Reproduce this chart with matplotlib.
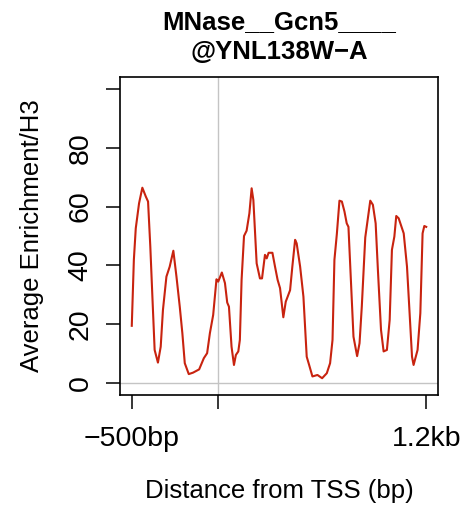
import matplotlib
matplotlib.use("Agg")
import matplotlib.pyplot as plt

plt.rcParams['font.family'] = ['Liberation Sans', 'DejaVu Sans']

# Average MNase enrichment profile (relative to H3) around the TSS
position_bp = [-500, -488, -477, -458, -439, -419, -406, -393, -381, -368, -349, -333,
               -320, -300, -281, -260, -242, -223, -208, -194, -171, -146, -111, -84,
               -65, -49, -30, -11, -1, 20, 38, 51, 61, 76, 90, 101, 115, 124, 134, 148,
               163, 179, 192, 202, 221, 240, 252, 269, 279, 290, 312, 327, 342, 356,
               375, 389, 400, 414, 427, 443, 452, 472, 491, 510, 524, 543, 572, 599,
               626, 645, 659, 670, 684, 699, 713, 728, 741, 751, 765, 780, 801, 815,
               828, 848, 877, 892, 908, 921, 939, 954, 973, 989, 1002, 1016, 1027,
               1041, 1070, 1089, 1104, 1118, 1127, 1150, 1166, 1179, 1189, 1200]
enrichment = [19.5, 41.9, 52.6, 61.1, 66.4, 63.4, 61.7, 46.4, 29.4, 11.3, 7.0, 12.4,
              24.9, 36.2, 39.6, 45.0, 36.2, 26.0, 17.0, 6.8, 3.1, 3.6, 4.7, 8.5,
              10.2, 17.0, 23.2, 35.3, 34.5, 37.6, 34.0, 27.4, 26.0, 12.4, 6.2, 9.6,
              10.8, 14.7, 35.1, 50.0, 51.8, 57.7, 66.2, 62.2, 40.7, 35.6, 35.6, 43.6,
              42.4, 44.3, 44.3, 39.6, 35.1, 32.3, 22.4, 27.7, 29.4, 31.6, 39.6, 48.7,
              47.5, 39.6, 29.4, 9.0, 6.2, 2.3, 2.8, 1.7, 3.4, 6.8, 14.7, 41.9, 50.7,
              62.0, 61.7, 58.3, 54.3, 53.1, 35.1, 15.8, 9.2, 13.6, 26.0, 49.5, 62.0,
              60.6, 54.3, 38.5, 18.1, 10.8, 11.3, 21.5, 45.3, 49.8, 56.8, 56.0, 50.9,
              39.6, 23.8, 9.0, 6.2, 11.3, 23.8, 50.9, 53.4, 53.1]

x_ticks = [-500, 0, 1200]
x_tick_labels = ['\u2212500bp', '', '1.2kb']
y_ticks = [0, 20, 40, 60, 80, 100]
y_tick_labels = ['0', '20', '40', '60', '80', '']

fig = plt.figure(figsize=(4.72, 5.07), dpi=100)
ax = fig.add_axes([120 / 472, 1 - 395 / 507, 318 / 472, 318 / 507])

ax.axvline(0, color='#c4c4c4', lw=1.0, zorder=1)
ax.axhline(0, color='#c4c4c4', lw=1.0, zorder=1)
ax.plot(position_bp, enrichment, color='#c8230f', lw=1.5, zorder=2)

ax.set_xlim(-568, 1268)
ax.set_ylim(-4, 104)

ax.set_xticks(x_ticks)
ax.set_xticklabels(x_tick_labels)
ax.set_yticks(y_ticks)
ax.set_yticklabels(y_tick_labels, rotation=90, va='center')

ax.tick_params(axis='both', length=10, width=1.1, color='black',
               labelsize=20.5, direction='out')
ax.tick_params(axis='x', pad=12)
ax.tick_params(axis='y', pad=9)
for s in ax.spines.values():
    s.set_linewidth(1.2)
    s.set_color('black')

ax.set_xlabel('Distance from TSS (bp)', fontsize=18.5, labelpad=20)
ax.set_ylabel('Average Enrichment/H3', fontsize=18.5, labelpad=17)
ax.set_title('MNase__Gcn5____\n@YNL138W\u2212A', fontsize=18.5, fontweight='bold',
             linespacing=1.3, pad=13)

fig.savefig('out.png', dpi=100, facecolor='white')
